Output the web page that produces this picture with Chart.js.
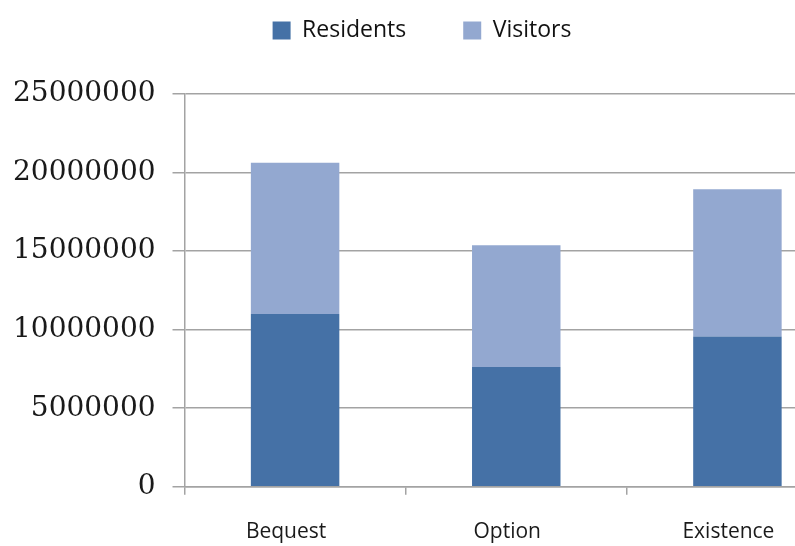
<!DOCTYPE html>
<html>
<head>
<meta charset="utf-8">
<script src="https://cdn.jsdelivr.net/npm/chart.js@4/dist/chart.umd.min.js"></script>
<style>
  html, body { margin: 0; padding: 0; background: #ffffff; overflow: hidden; }
  #wrap { position: relative; width: 850px; height: 546px; }
</style>
</head>
<body>
<div id="wrap"><canvas id="chart"></canvas></div>
<script>
// Value categories along the x axis
const categories = ['Bequest', 'Option', 'Existence'];

// Stacked series values
const residents = [11000000, 7630000, 9570000];
const visitors  = [9620000, 7740000, 9370000];

// Value axis range and step
const yMin = 0;
const yMax = 25000000;
const yStep = 5000000;

const gridColor = '#a3a3a3';

// Adds extra room under the legend, between it and the plot
const legendSpacing = {
  id: 'legendSpacing',
  beforeInit(chart) {
    const fit = chart.legend.fit;
    chart.legend.fit = function () {
      fit.bind(chart.legend)();
      this.height += 42;
    };
  }
};

new Chart(document.getElementById('chart'), {
  type: 'bar',
  data: {
    labels: categories,
    datasets: [
      {
        label: 'Residents',
        data: residents,
        backgroundColor: '#4571a6',
        borderWidth: 0
      },
      {
        label: 'Visitors',
        data: visitors,
        backgroundColor: '#93a8d0',
        borderWidth: 0
      }
    ]
  },
  options: {
    responsive: true,
    maintainAspectRatio: false,
    animation: false,
    devicePixelRatio: 1,
    layout: { padding: { top: -38, left: -4, right: 2, bottom: -24 } },
    datasets: {
      bar: { categoryPercentage: 1.0, barPercentage: 0.4 }
    },
    plugins: {
      tooltip: { enabled: false },
      legend: {
        position: 'top',
        align: 'center',
        labels: {
          boxWidth: 18,
          boxHeight: 18,
          padding: 57,
          color: '#111111',
          font: { family: '"Open Sans", sans-serif', size: 23 }
        }
      }
    },
    scales: {
      x: {
        stacked: true,
        offset: true,
        border: { display: true, color: gridColor, width: 1.5 },
        grid: {
          display: true,
          offset: true,
          drawOnChartArea: false,
          drawTicks: true,
          tickLength: 8,
          color: gridColor,
          lineWidth: 1.5
        },
        ticks: {
          color: '#1a1a1a',
          padding: 25,
          labelOffset: -9,
          font: { family: '"Open Sans", sans-serif', size: 21 }
        }
      },
      y: {
        stacked: true,
        min: yMin,
        max: yMax,
        border: { display: true, color: gridColor, width: 1.5 },
        grid: {
          color: gridColor,
          lineWidth: 1.5,
          tickLength: 12
        },
        ticks: {
          stepSize: yStep,
          padding: 17,
          color: '#1a1a1a',
          font: { family: '"DejaVu Serif", serif', size: 28 },
          callback: (v) => String(v)
        }
      }
    }
  },
  plugins: [legendSpacing]
});
</script>
</body>
</html>
